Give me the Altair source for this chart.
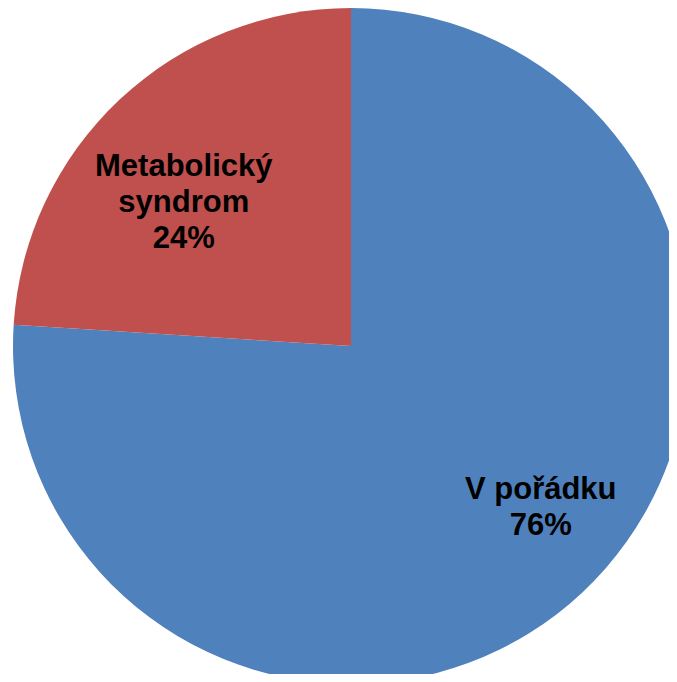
import altair as alt
import pandas as pd

categories = ["V pořádku", "Metabolický syndrom"]
values = [76, 24]
labels = ["V pořádku\n76%", "Metabolický\nsyndrom\n24%"]
colors = ["#4F81BD", "#C0504D"]

df = pd.DataFrame({"category": categories, "value": values, "label": labels, "idx": [0, 1]})

CX, CY, R = 343, 338, 338

base = alt.Chart(df).encode(
    theta=alt.Theta("value:Q", stack=True),
    order=alt.Order("idx:Q"),
)

pie = base.mark_arc(outerRadius=R, stroke=None).encode(
    color=alt.Color("category:N", scale=alt.Scale(domain=categories, range=colors), legend=None),
    x=alt.value(CX),
    y=alt.value(CY),
)

def text_layer(cat, r, dx, dy):
    return base.transform_calculate(
        t=f"datum.category == '{cat}' ? datum.label : ''"
    ).mark_text(
        radius=r, dx=dx, dy=dy, font="Liberation Sans", fontWeight="bold",
        fontSize=31, lineBreak="\n", lineHeight=36, color="black",
        align="center", baseline="middle",
    ).encode(text="t:N", x=alt.value(CX), y=alt.value(CY))

t_red = text_layer("Metabolický syndrom", 218, -18, -20)
t_blue = text_layer("V pořádku", 248, 20, -37)

chart = alt.layer(pie, t_blue, t_red).properties(
    width=661, height=666, padding=0, autosize=alt.AutoSizeParams(type="none"),
    background="white",
).configure_view(stroke=None)

chart.save("out.html", embed_options={"renderer": "svg", "actions": False})
